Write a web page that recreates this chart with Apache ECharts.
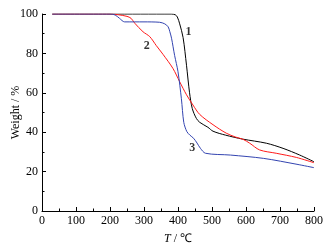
<!DOCTYPE html>
<html>
<head>
<meta charset="utf-8">
<script src="https://cdn.jsdelivr.net/npm/echarts@6/dist/echarts.min.js"></script>
<style>
  html, body { margin: 0; padding: 0; background: #fff; }
  #chart { width: 328px; height: 250px; }
</style>
</head>
<body>
<div id="chart"></div>
<script>
// curve 1 (black)
var curve1 = [[30,100],[200,100],[380,100],[392,99.6],[398,98.5],[405,95],[415,88],[425,74],[434,60],[442,52],[454,47],[464,45],[488,42.5],[503,40.5],[540,38.5],[590,36.5],[660,34.4],[709,31.8],[758,28.4],[800,25]];
// curve 2 (red)
var curve2 = [[30,100],[200,100],[225,99.6],[250,98.8],[262,97.8],[273,95.3],[297,91],[317,88.5],[336,84],[356,79.5],[385,72.4],[405,65.6],[425,59],[444,53.8],[464,49],[503,43.8],[542,39.5],[570,37.5],[591,36.4],[611,34.4],[640,31],[689,29.3],[748,27.2],[800,24.5]];
// curve 3 (blue)
var curve3 = [[30,100],[200,100],[215,99.5],[228,97.8],[243,96],[300,96],[346,95.8],[361,95],[371,93.5],[376,91],[381,87.7],[390,79],[400,70.7],[410,57],[417,45],[426,40.3],[435,38.5],[446,36.9],[456,34.5],[466,31.8],[481,29.3],[554,28.4],[652,26.7],[750,23.7],[800,22]];
// curve labels
var curveLabels = [[431,91,'1'],[308,84,'2'],[442,32,'3']];

var font = 'Liberation Serif';
var chart = echarts.init(document.getElementById('chart'));

function line(data, color) {
  return {
    type: 'line',
    data: data,
    showSymbol: false,
    smooth: 0.3,
    lineStyle: { color: color, width: 1 },
    silent: true
  };
}

chart.setOption({
  animation: false,
  grid: { left: 42, right: 14, top: 14, bottom: 39, outerBoundsMode: 'none' },
  xAxis: {
    type: 'value',
    min: 0, max: 800, interval: 100,
    name: '{i|T} / ℃',
    nameLocation: 'middle',
    nameGap: 22,
    nameMoveOverlap: false,
    nameTextStyle: { fontFamily: font, fontSize: 12, color: '#000',
      rich: { i: { fontStyle: 'italic', fontFamily: font, fontSize: 12, color: '#000' } } },
    axisLine: { lineStyle: { color: '#000', width: 1 } },
    axisTick: { inside: true, length: 4, lineStyle: { color: '#000' } },
    minorTick: { show: true, splitNumber: 2, length: 2.5, lineStyle: { color: '#000' } },
    axisLabel: { fontFamily: font, fontSize: 12, color: '#000', margin: 4 },
    splitLine: { show: false }
  },
  yAxis: {
    type: 'value',
    min: 0, max: 100, interval: 20,
    name: 'Weight / %',
    nameLocation: 'middle',
    nameGap: 20,
    nameMoveOverlap: false,
    nameTextStyle: { fontFamily: font, fontSize: 12, color: '#000' },
    axisLine: { show: true, lineStyle: { color: '#000', width: 1 } },
    axisTick: { show: true, inside: true, length: 4, lineStyle: { color: '#000' } },
    minorTick: { show: true, splitNumber: 2, length: 2.5, lineStyle: { color: '#000' } },
    axisLabel: { fontFamily: font, fontSize: 12, color: '#000', margin: 4 },
    splitLine: { show: false }
  },
  series: [
    line(curve1, '#000000'),
    line(curve2, '#ff1a1a'),
    line(curve3, '#3344b0'),
    {
      type: 'scatter',
      symbolSize: 0,
      silent: true,
      data: curveLabels.map(function (d) { return { value: [d[0], d[1]], name: d[2] }; }),
      label: {
        show: true, position: 'inside', formatter: '{b}',
        fontFamily: font, fontSize: 12, fontWeight: 'bold', color: '#000'
      }
    }
  ]
});
</script>
</body>
</html>
